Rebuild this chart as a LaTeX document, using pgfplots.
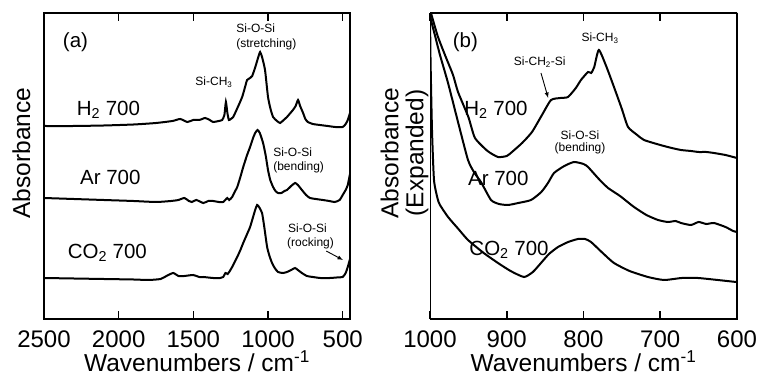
\documentclass[border=0pt]{standalone}
\usepackage{fontspec}
\setmainfont{Liberation Sans}
\usepackage{pgfplots}
\pgfplotsset{compat=1.18}
\pgfplotsset{
  panel/.style={
    scale only axis, anchor=south west,
    height=306pt, ymin=0, ymax=306, ytick=\empty,
    x dir=reverse,
    tick align=inside, xtick pos=both, major tick length=8pt,
    xtick style={line width=1.6pt, black},
    /pgf/number format/.cd, 1000 sep={}, assume math mode=true, /pgfplots/.cd,
    tick label style={font=\fontsize{24}{24}\selectfont},
    xticklabel style={yshift=-8.5pt},
    label style={font=\fontsize{24.5}{25}\selectfont},
    xlabel style={yshift=4pt},
    clip=false,
  },
  curve/.style={line width=2pt, black, smooth, tension=0.35, mark=none},
}
\tikzset{
  lab/.style={font=\fontsize{20.5}{21}\selectfont, inner sep=0pt},
  ann/.style={font=\fontsize{12}{12}\selectfont, inner sep=0pt},
  tk/.style={line width=1.6pt, black},
}
\begin{document}
\begin{tikzpicture}[x=1pt,y=1pt]
\useasboundingbox (0,0) rectangle (762,377);
% ---------------- panel (a)
\begin{axis}[panel, at={(44pt,58pt)}, width=306pt,
  xmin=451, xmax=2500, xtick={500,1000,1500,2000,2500},
  xlabel={Wavenumbers / cm\textsuperscript{-1}},
  ylabel={Absorbance}, ylabel style={yshift=10pt, xshift=13pt}]
% H2 700
\addplot[curve] coordinates {(2500,193) (2300,193) (2100,193.5) (1900,194.5) (1750,196) (1640,198) (1588,200) (1540,197) (1501,199) (1460,199) (1421,201) (1390,199) (1367,197) (1330,198) (1307,199) (1292,204) (1282,217) (1272,206) (1262,199) (1250,200) (1233,202) (1205,211) (1173,222) (1150,234) (1140,239) (1120,241) (1106,243) (1085,252) (1065,262) (1053,267) (1040,262) (1020,249) (1000,222) (983,210) (966,202) (940,198) (919,196) (895,199) (873,202) (850,206) (833,209) (815,213) (799,219) (785,213) (765,206) (750,200) (733,197) (700,195) (653,194) (600,193) (550,192) (500,192) (480,195) (466,199) (451,206)};
% Ar 700
\addplot[curve] coordinates {(2500,121) (2300,120) (2100,119) (1900,118) (1750,117) (1650,118) (1600,119) (1560,121) (1530,118) (1510,117) (1480,119) (1433,116) (1400,118) (1367,118) (1330,117) (1300,117) (1273,121) (1260,119) (1240,122) (1220,128) (1206,132) (1185,142) (1166,152) (1140,164) (1120,172) (1100,181) (1086,186) (1070,189) (1055,186) (1033,176) (1015,163) (1000,149) (985,139) (966,132) (950,128) (933,126) (910,126) (890,128) (873,129) (845,133) (819,136) (800,134) (773,129) (745,124) (719,121) (680,120) (633,119) (590,118) (553,117) (520,119) (500,124) (480,129) (466,134) (451,145)};
% CO2 700
\addplot[curve] coordinates {(2500,41) (2300,40.5) (2100,40) (1900,39.5) (1800,39) (1720,40) (1680,43) (1635,46) (1600,43) (1560,43) (1501,44) (1460,42) (1433,42) (1367,41) (1320,41) (1300,42) (1285,46) (1270,45) (1260,47) (1240,52) (1220,58) (1206,62) (1185,69) (1166,76) (1140,85) (1120,92) (1100,102) (1086,109) (1073,114) (1060,112) (1040,106) (1025,92) (1006,72) (990,63) (973,56) (955,51) (933,47) (900,46) (873,47) (845,49) (819,51) (800,49) (773,46) (740,43) (700,42) (650,41) (586,41) (540,41.5) (500,42) (480,46) (466,52) (451,60)};
\draw[line width=2.4pt] (rel axis cs:0,0) rectangle (rel axis cs:1,1);
\draw[tk] (axis cs:2000,0) -- (axis cs:2000,8) (axis cs:2000,306) -- (axis cs:2000,298);
\draw[tk] (axis cs:1500,0) -- (axis cs:1500,8) (axis cs:1500,306) -- (axis cs:1500,298);
\draw[tk] (axis cs:1000,0) -- (axis cs:1000,8) (axis cs:1000,306) -- (axis cs:1000,298);
\draw[tk] (axis cs:500,0) -- (axis cs:500,8) (axis cs:500,306) -- (axis cs:500,298);
\node[lab] at (axis cs:2289,277) {(a)};
\node[lab] at (axis cs:2069,209) {H\textsubscript{2} 700};
\node[lab] at (axis cs:2056,142) {Ar 700};
\node[lab] at (axis cs:2076,66) {CO\textsubscript{2} 700};
\node[ann,anchor=west] at (axis cs:1213,291) {Si-O-Si};
\node[ann,anchor=west] at (axis cs:1213,275) {(stretching)};
\node[ann,anchor=west] at (axis cs:1487,237) {Si-CH\textsubscript{3}};
\node[ann,anchor=west] at (axis cs:966,167) {Si-O-Si};
\node[ann,anchor=west] at (axis cs:966,152) {(bending)};
\node[ann,anchor=west] at (axis cs:866,91) {Si-O-Si};
\node[ann,anchor=west] at (axis cs:873,76) {(rocking)};
\draw[-latex, line width=0.9pt] (axis cs:610,68) -- (axis cs:498,59);
\end{axis}
% ---------------- panel (b)
\begin{axis}[panel, at={(430pt,58pt)}, width=307pt,
  xmin=600, xmax=1000, xtick={600,700,800,900,1000},
  xlabel={Wavenumbers / cm\textsuperscript{-1}},
  ylabel={Absorbance\\(Expanded)}, ylabel style={align=center, yshift=-2pt, xshift=13pt},
  clip=true]
% H2 700
\addplot[curve] coordinates {(1000,310) (998.7,306) (990,283) (980.5,264) (970,244) (963.5,227) (950,202) (941.4,181) (925,168) (911.4,162) (900,163) (893.2,167) (880,176) (867.1,187) (854.1,204) (842.3,219) (830,221) (820.2,222) (810,231) (803.3,239) (794.1,247) (790,246) (786,252) (780,269) (770,252) (760.3,232) (750,210) (742,192) (730,184) (721.2,179) (700,174) (685,171) (673,169) (660,168) (650,167) (640,167) (630,166) (615,164) (605,162) (600,161)};
% Ar 700
\addplot[curve] coordinates {(1000,308) (998.7,299) (993,282) (987,264) (976.5,236) (963.5,197) (950.5,159) (942,146) (933.6,137) (920.5,119) (910,115) (898.4,114) (885,116) (868.4,119) (855,127) (846.3,136) (838.4,146) (825,153) (812.4,157) (800,155) (794.1,152) (780,140) (768,131) (752.4,123) (734.2,112) (718,104) (702.9,99) (690,97) (680,98) (673,96) (660,94) (650,97) (640,95) (630,96) (615,92) (605,88) (600,87)};
% CO2 700
\addplot[curve] coordinates {(1000,306) (999.3,259) (997.4,189) (994.8,139) (990,120) (987,114) (976.5,102) (963,90) (950.5,79) (930,66) (911.4,56) (895,48) (877.5,42) (866,47) (855.4,56) (845,65) (833.2,72) (820,77) (807.2,80) (798,80) (790.2,77) (775,66) (760.3,56) (740,48) (716,42) (695.1,39) (672,41) (650.8,41) (625,39) (601,37) (600,37)};
\draw[line width=2.4pt] (rel axis cs:0,0) rectangle (rel axis cs:1,1);
\draw[tk] (axis cs:900,0) -- (axis cs:900,8) (axis cs:900,306) -- (axis cs:900,298);
\draw[tk] (axis cs:800,0) -- (axis cs:800,8) (axis cs:800,306) -- (axis cs:800,298);
\draw[tk] (axis cs:700,0) -- (axis cs:700,8) (axis cs:700,306) -- (axis cs:700,298);
\node[lab] at (axis cs:954,277) {(b)};
\node[lab] at (axis cs:914,209) {H\textsubscript{2} 700};
\node[lab] at (axis cs:911,141) {Ar 700};
\node[lab] at (axis cs:897,69) {CO\textsubscript{2} 700};
\node[ann] at (axis cs:778.5,281) {Si-CH\textsubscript{3}};
\node[ann] at (axis cs:857,257) {Si-CH\textsubscript{2}-Si};
\draw[-latex, line width=0.9pt] (axis cs:855.4,246) -- (axis cs:846,221);
\node[ann] at (axis cs:804.5,184) {Si-O-Si};
\node[ann] at (axis cs:804.5,171) {(bending)};
\end{axis}
\end{tikzpicture}
\end{document}
